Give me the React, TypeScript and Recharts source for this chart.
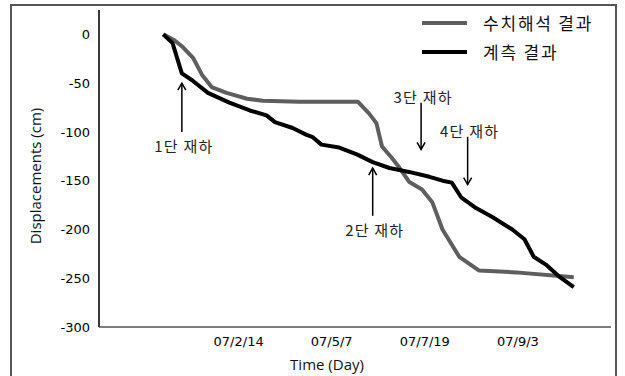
import React from 'react';
import { LineChart, Line, XAxis, YAxis, ReferenceLine, Legend } from 'recharts';

// x is measured in tenths of a tick interval, ticks sit at 15/25/35/45
const tickPositions = [15, 25, 35, 45];
const tickLabels = ['07/2/14', '07/5/7', '07/7/19', '07/9/3'];
const yTicks = [0, -50, -100, -150, -200, -250, -300];

const seriesNames = ['수치해석 결과', '계측 결과'];

// 수치해석 결과 (gray)
const analysisX = [6.9, 8.1, 9.0, 10.1, 11.1, 12.1, 13.7, 15.9, 17.6, 21.5, 27.8, 29.0, 29.8, 30.4, 31.4, 32.3, 33.3, 34.7, 35.8, 36.9, 38.7, 40.8, 44.8, 51.0];
const analysisY = [0, -6, -13, -24, -42, -54, -60, -66, -68, -69, -69, -81, -91, -115, -126, -137, -151, -159, -172, -200, -228, -242, -244, -249];

// 계측 결과 (black)
const measuredX = [6.9, 7.9, 8.9, 10.0, 11.7, 14.0, 16.2, 18.0, 18.9, 20.8, 22.3, 22.9, 23.9, 25.8, 27.7, 29.4, 31.2, 33.3, 35.5, 36.9, 37.9, 38.9, 40.5, 42.2, 44.4, 45.7, 46.7, 48.0, 49.4, 51.0];
const measuredY = [0, -9, -40, -47, -60, -70, -78, -83, -90, -96, -103, -105, -113, -116, -123, -131, -137, -141, -146, -150, -152, -167, -178, -187, -200, -210, -228, -236, -248, -259];

// loading stages: arrow x, arrow tail, arrow tip
const stageLabels = ['1단 재하', '2단 재하', '3단 재하', '4단 재하'];
const stageX = [8.9, 29.4, 34.6, 39.6];
const stageTail = [-100, -186, -70, -105];
const stageTip = [-50, -137, -118, -154];

const analysisData = analysisX.map((x, i) => ({ x, y: analysisY[i] }));
const measuredData = measuredX.map((x, i) => ({ x, y: measuredY[i] }));

const KR = '"Noto Sans CJK KR", "Noto Sans", sans-serif';

const Arrow = (label: string) => (p: any) => {
  const { x1, y1, x2, y2 } = p;
  const down = y2 > y1; // tip below tail
  const d = down ? -1 : 1;
  const ty = down ? y1 - 6 : y1 + 14;
  return (
    <g>
      <line x1={x1} y1={y1} x2={x2} y2={y2} stroke="#000" strokeWidth={1.5} />
      <polyline
        points={`${x2 - 4},${y2 + d * 7} ${x2},${y2} ${x2 + 4},${y2 + d * 7}`}
        fill="none"
        stroke="#000"
        strokeWidth={1.5}
      />
      <text
        x={x1 + 2}
        y={ty}
        textAnchor="middle"
        dominantBaseline="central"
        fontFamily={KR}
        fontSize={15}
        letterSpacing={1.2}
        fill="#222"
      >
        {label}
      </text>
    </g>
  );
};

const LegendBox = ({ payload }: any) => {
  const items = [...(payload || [])].sort(
    (a: any, b: any) => seriesNames.indexOf(a.value) - seriesNames.indexOf(b.value)
  );
  return (
    <div>
      {items.map((item: any, i: number) => (
        <div key={i} style={{ display: 'flex', alignItems: 'center', height: 29 }}>
          <div style={{ width: 45, height: 4, background: item.color, marginRight: 16 }} />
          <span style={{ fontFamily: KR, fontSize: 17, letterSpacing: 1.8, color: '#111' }}>{item.value}</span>
        </div>
      ))}
    </div>
  );
};

export default function App() {
  return (
    <div style={{ position: 'absolute', left: 0, top: 0, width: 625, height: 376, overflow: 'hidden', background: '#fff' }}>
      <LineChart width={625} height={376} margin={{ top: 10, right: 14, left: 39, bottom: 19 }}>
        <XAxis
          type="number"
          dataKey="x"
          domain={[0, 55]}
          ticks={tickPositions}
          interval={0}
          tickFormatter={(v: number) => tickLabels[tickPositions.indexOf(v)]}
          tickLine={false}
          tickSize={0}
          tickMargin={10}
          height={30}
          axisLine={{ stroke: '#555', strokeWidth: 1.5 }}
          tick={{ fontFamily: 'DejaVu Sans', fontSize: 13, fill: '#000' }}
        />
        <YAxis
          type="number"
          dataKey="y"
          domain={[-300, 25]}
          ticks={yTicks}
          interval={0}
          width={60}
          tickLine={false}
          tickSize={0}
          tickMargin={9}
          stroke="#3a3a3a"
          axisLine={{ stroke: '#3a3a3a', strokeWidth: 2 }}
          tick={{ fontFamily: 'DejaVu Sans', fontSize: 13, fill: '#000' }}
        />
        <Legend
          layout="vertical"
          align="center"
          verticalAlign="middle"
          content={<LegendBox />}
          wrapperStyle={{ left: 422, top: 8, width: 190 }}
        />
        <Line
          data={analysisData}
          dataKey="y"
          name={seriesNames[0]}
          type="linear"
          stroke="#5e5e5e"
          strokeWidth={4}
          strokeLinejoin="round"
          dot={false}
          isAnimationActive={false}
        />
        <Line
          data={measuredData}
          dataKey="y"
          name={seriesNames[1]}
          type="linear"
          stroke="#000"
          strokeWidth={4}
          strokeLinejoin="round"
          dot={false}
          isAnimationActive={false}
        />
        {stageLabels.map((label, i) => (
          <ReferenceLine
            key={label}
            segment={[
              { x: stageX[i], y: stageTail[i] },
              { x: stageX[i], y: stageTip[i] },
            ]}
            shape={Arrow(label)}
          />
        ))}
      </LineChart>
      <svg width={625} height={376} style={{ position: 'absolute', left: 0, top: 0, pointerEvents: 'none' }}>
        <path d="M11 380 V5 H616 V380" fill="none" stroke="#555" strokeWidth={2} />
        <text
          transform="translate(35,176) rotate(-90)"
          textAnchor="middle"
          dominantBaseline="central"
          fontFamily="'Open Sans', sans-serif"
          fontSize={15}
          fill="#111"
        >
          Displacements (cm)
        </text>
        <text x={327} y={364} textAnchor="middle" dominantBaseline="central" fontFamily="'Open Sans', sans-serif" fontSize={15} fill="#111">
          Time (Day)
        </text>
      </svg>
    </div>
  );
}
